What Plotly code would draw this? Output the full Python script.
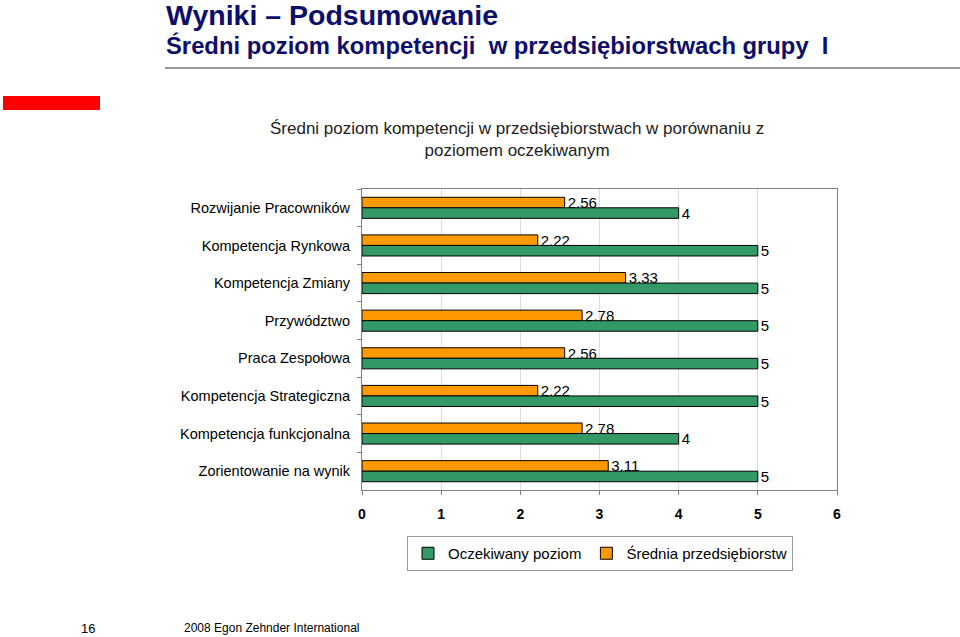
import plotly.graph_objects as go

categories = [
    "Rozwijanie Pracowników",
    "Kompetencja Rynkowa",
    "Kompetencja Zmiany",
    "Przywództwo",
    "Praca Zespołowa",
    "Kompetencja Strategiczna",
    "Kompetencja funkcjonalna",
    "Zorientowanie na wynik",
]
srednia = [2.56, 2.22, 3.33, 2.78, 2.56, 2.22, 2.78, 3.11]
oczekiwany = [4, 5, 5, 5, 5, 5, 4, 5]
x_ticks = [0, 1, 2, 3, 4, 5, 6]

def fmt(v):
    return f"{v:g}".replace(".", ",")

# plot area in pixels
L, R, T, B = 362, 837, 189, 490
W, H = 960, 637

def px(x):
    return (x - L) / (R - L)

def py(y):
    return (B - y) / (B - T)

font_main = "Liberation Sans, Arial, sans-serif"
font_narrow = "Liberation Sans Narrow, Arial Narrow, Liberation Sans, Arial, sans-serif"

fig = go.Figure()
fig.add_trace(go.Bar(
    y=categories, x=srednia, orientation="h", name="Średnia przedsiębiorstw",
    marker=dict(color="#FF9900", line=dict(color="#000000", width=1)),
    text=[fmt(v) for v in srednia], textposition="outside",
    textfont=dict(size=15, color="#000000", family=font_main),
    constraintext="none", cliponaxis=False, legendrank=2,
))
fig.add_trace(go.Bar(
    y=categories, x=oczekiwany, orientation="h", name="Oczekiwany poziom",
    marker=dict(color="#339966", line=dict(color="#000000", width=1)),
    text=[fmt(v) for v in oczekiwany], textposition="outside",
    textfont=dict(size=15, color="#000000", family=font_main),
    constraintext="none", cliponaxis=False, legendrank=1,
))

fig.update_layout(
    width=W, height=H,
    margin=dict(l=L, r=W - R, t=T, b=H - B, pad=0),
    paper_bgcolor="white", plot_bgcolor="white",
    barmode="group", bargap=0.44, bargroupgap=0,
    font=dict(family=font_main, color="#000000"),
    showlegend=True,
    legend=dict(
        orientation="h", x=px(600), xanchor="center", y=py(536), yanchor="top",
        bordercolor="#9a9a9a", borderwidth=1,
        font=dict(size=15, family=font_main, color="#000000"),
        itemwidth=30, tracegroupgap=0,
    ),
    xaxis=dict(
        range=[0, 6], tickvals=x_ticks, ticktext=[str(t) for t in x_ticks],
        showgrid=True, gridcolor="#dddddd", gridwidth=1,
        showline=True, linecolor="#808080", linewidth=1, mirror=True,
        ticks="outside", ticklen=4, tickcolor="#808080",
        tickfont=dict(size=14, family=font_main, color="#000000", weight="bold"),
        ticklabelstandoff=7, zeroline=False, fixedrange=True,
    ),
    yaxis=dict(
        type="category", autorange="reversed",
        showline=True, linecolor="#808080", linewidth=1, mirror=True,
        ticks="outside", ticklen=4, tickcolor="#808080", tickson="boundaries",
        tickfont=dict(size=14.5, family=font_main, color="#000000"),
        ticklabelstandoff=8, showgrid=False, fixedrange=True,
    ),
)

# header texts
fig.add_annotation(
    text="<b>Wyniki – Podsumowanie</b>", xref="paper", yref="paper",
    x=px(164), y=py(15), xanchor="left", yanchor="middle", showarrow=False,
    font=dict(size=28.5, family=font_narrow, color="#0D0D6B"),
)
fig.add_annotation(
    text="<b>Średni poziom kompetencji  w przedsiębiorstwach grupy  I</b>", xref="paper", yref="paper",
    x=px(164), y=py(45), xanchor="left", yanchor="middle", showarrow=False,
    font=dict(size=23.8, family=font_narrow, color="#0D0D6B"),
)
# chart title
fig.add_annotation(
    text="Średni poziom kompetencji w przedsiębiorstwach w porównaniu z<br>poziomem oczekiwanym",
    xref="paper", yref="paper", x=px(517), y=py(140), xanchor="center", yanchor="middle",
    showarrow=False, align="center",
    font=dict(size=17, family=font_main, color="#222222"),
)
# footer
fig.add_annotation(
    text="16", xref="paper", yref="paper", x=px(88), y=py(628),
    xanchor="center", yanchor="middle", showarrow=False,
    font=dict(size=13, family=font_main, color="#000000"),
)
fig.add_annotation(
    text="2008 Egon Zehnder International", xref="paper", yref="paper", x=px(182), y=py(628),
    xanchor="left", yanchor="middle", showarrow=False,
    font=dict(size=12, family=font_main, color="#000000"),
)

# decorative shapes
fig.add_shape(type="line", xref="paper", yref="paper",
              x0=px(165), x1=px(960), y0=py(68), y1=py(68),
              line=dict(color="#999999", width=2))
fig.add_shape(type="rect", xref="paper", yref="paper",
              x0=px(3), x1=px(100), y0=py(96), y1=py(110),
              fillcolor="#FF0000", line=dict(width=0))

fig.write_html(
    "out.html",
    config={"displayModeBar": False},
    post_script="document.body.style.margin='0';document.body.style.padding='0';",
)
